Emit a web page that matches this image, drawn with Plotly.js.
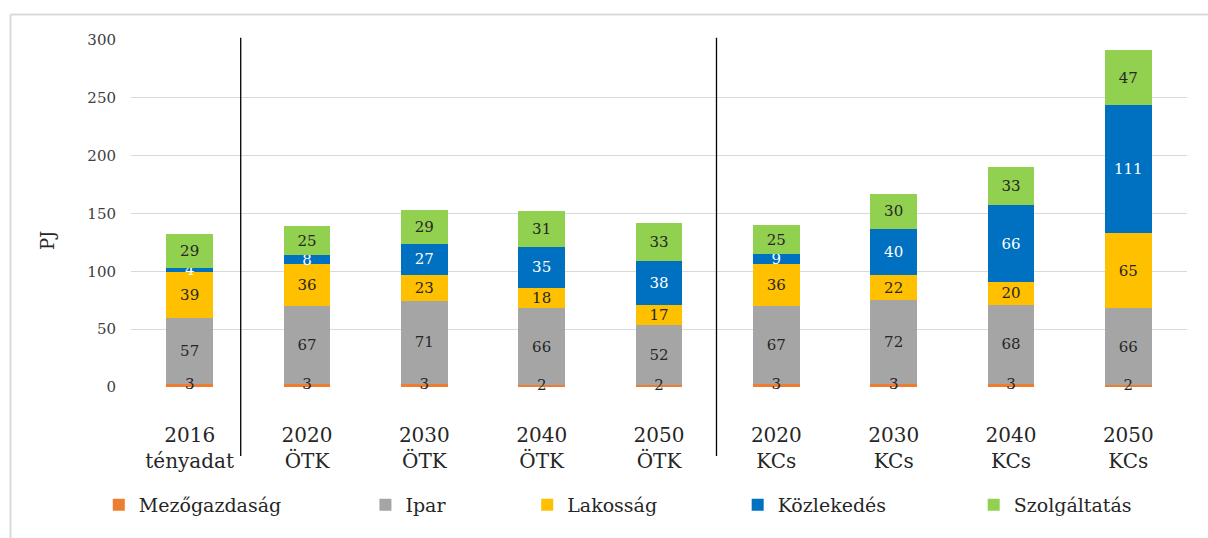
<!DOCTYPE html>
<html>
<head>
<meta charset="utf-8">
<script src="https://cdn.plot.ly/plotly-3.0.1.min.js"></script>
<style>html,body{margin:0;padding:0;background:#fff;}#chart{width:1208px;height:538px;}</style>
</head>
<body>
<div id="chart"></div>
<script>
const categories = ["2016<br>tényadat", "2020<br>ÖTK", "2030<br>ÖTK", "2040<br>ÖTK", "2050<br>ÖTK",
                    "2020<br>KCs", "2030<br>KCs", "2040<br>KCs", "2050<br>KCs"];
const mezogazdasag = [3, 3, 3, 2, 2, 3, 3, 3, 2];
const ipar         = [57, 67, 71, 66, 52, 67, 72, 68, 66];
const lakossag     = [39, 36, 23, 18, 17, 36, 22, 20, 65];
const kozlekedes   = [4, 8, 27, 35, 38, 9, 40, 66, 111];
const szolgaltatas = [29, 25, 29, 31, 33, 25, 30, 33, 47];
const seriesNames  = ["Mezőgazdaság", "Ipar", "Lakosság", "Közlekedés", "Szolgáltatás"];
const yTicks = [0, 50, 100, 150, 200, 250, 300];

const FONT = "'DejaVu Serif', 'Liberation Serif', 'Noto Serif', Tinos, serif";
const colors = ["#ED7D31", "#A5A5A5", "#FFC000", "#0070C0", "#92D050"];
const textColors = ["#262626", "#262626", "#262626", "#ffffff", "#262626"];
const seriesData = [mezogazdasag, ipar, lakossag, kozlekedes, szolgaltatas];
const legendIds = ["legend", "legend2", "legend3", "legend4", "legend5"];
const legendX = [-0.0305, 0.2220, 0.3752, 0.5745, 0.7980];

const traces = seriesData.map((vals, i) => ({
  type: "bar",
  name: seriesNames[i],
  x: categories,
  y: vals,
  marker: {color: colors[i], line: {width: 0}},
  width: 0.4,
  text: vals.map(String),
  textposition: i === 0 ? "none" : "inside",
  insidetextanchor: "middle",
  constraintext: "none",
  textangle: 0,
  insidetextfont: {family: FONT, size: 15, color: textColors[i]},
  legend: legendIds[i],
  showlegend: true,
  hoverinfo: "name+y"
}));

// labels of the thin Mezőgazdaság segments, centred on the segment and allowed to overflow it
traces.push({
  type: "scatter",
  mode: "text",
  x: categories,
  y: mezogazdasag.map(v => v / 2),
  text: mezogazdasag.map(String),
  textposition: "middle center",
  textfont: {family: FONT, size: 15, color: "#262626"},
  cliponaxis: false,
  showlegend: false,
  hoverinfo: "skip"
});

const layout = {
  width: 1208, height: 538,
  margin: {l: 131, r: 21, t: 40, b: 151},
  paper_bgcolor: "#ffffff",
  plot_bgcolor: "#ffffff",
  barmode: "stack",
  showlegend: true,
  font: {family: FONT, color: "#262626"},
  xaxis: {
    type: "category",
    tickfont: {family: FONT, size: 20, color: "#262626"},
    ticks: "",
    showline: false,
    showgrid: false,
    zeroline: false,
    ticklabelstandoff: 34,
    automargin: false
  },
  yaxis: {
    range: [0, 300],
    tickvals: yTicks,
    ticktext: yTicks.map(String),
    tickfont: {family: FONT, size: 15, color: "#404040"},
    ticks: "",
    showline: false,
    zeroline: false,
    gridcolor: "#d9d9d9",
    gridwidth: 1,
    ticklabelstandoff: 14,
    automargin: false
  },
  annotations: [{
    text: "PJ", xref: "paper", yref: "paper",
    x: -0.0795, y: 0.4207, xanchor: "center", yanchor: "middle",
    textangle: -90, showarrow: false,
    font: {family: FONT, size: 18, color: "#262626"}
  }],
  shapes: [
    {type: "line", xref: "x", yref: "paper", x0: 0.435, x1: 0.435, y0: -0.199, y1: 1.0066,
     line: {color: "#000000", width: 1.3}},
    {type: "line", xref: "x", yref: "paper", x0: 4.49, x1: 4.49, y0: -0.199, y1: 1.0066,
     line: {color: "#000000", width: 1.3}},
    {type: "line", xref: "paper", yref: "paper", x0: -0.1141, x1: -0.1141, y0: -0.45, y1: 1.0735,
     line: {color: "#d9d9d9", width: 2}},
    {type: "line", xref: "paper", yref: "paper", x0: -0.1141, x1: 1.03, y0: 1.0735, y1: 1.0735,
     line: {color: "#d9d9d9", width: 2}}
  ]
};

legendIds.forEach((id, i) => {
  layout[id] = {
    orientation: "h",
    x: legendX[i], xanchor: "left",
    y: -0.34, yanchor: "middle",
    bgcolor: "rgba(0,0,0,0)",
    borderwidth: 0,
    visible: true,
    font: {family: FONT, size: 19, color: "#262626"}
  };
});

Plotly.newPlot("chart", traces, layout, {displayModeBar: false, staticPlot: true});
</script>
</body>
</html>
